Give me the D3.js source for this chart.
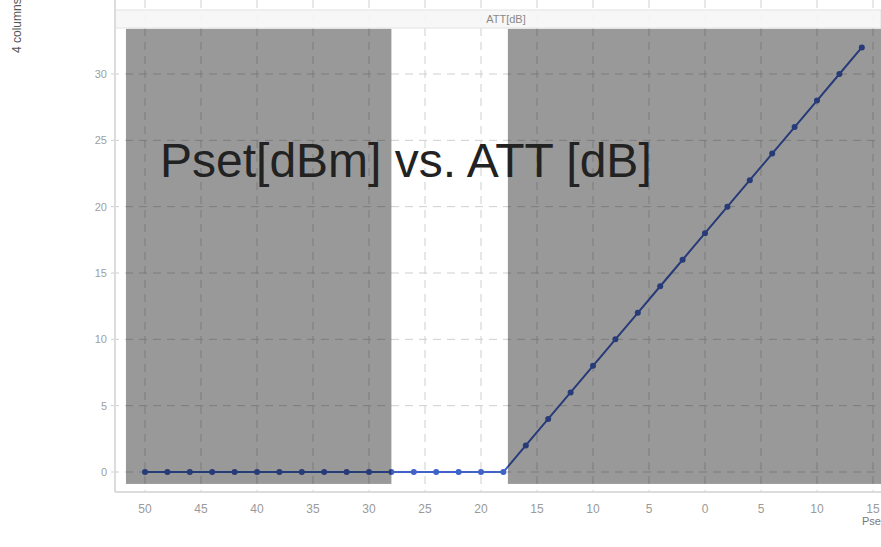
<!DOCTYPE html>
<html>
<head>
<meta charset="utf-8">
<script src="https://cdn.jsdelivr.net/npm/d3@7"></script>
<style>
  html, body { margin: 0; padding: 0; background: #fff; }
  svg { display: block; font-family: "Liberation Sans", Arial, sans-serif; }
</style>
</head>
<body>
<svg id="chart" width="881" height="547"></svg>
<script>
// Set power (dBm) and resulting attenuation (dB)
const psetValues = [-50, -48, -46, -44, -42, -40, -38, -36, -34, -32, -30, -28, -26, -24, -22, -20, -18,
                    -16, -14, -12, -10, -8, -6, -4, -2, 0, 2, 4, 6, 8, 10, 12, 14];
const attValues  = [0, 0, 0, 0, 0, 0, 0, 0, 0, 0, 0, 0, 0, 0, 0, 0, 0,
                    2, 4, 6, 8, 10, 12, 14, 16, 18, 20, 22, 24, 26, 28, 30, 32];
const xTicks = [-50, -45, -40, -35, -30, -25, -20, -15, -10, -5, 0, 5, 10, 15];
const yTicks = [0, 5, 10, 15, 20, 25, 30];
// Shaded Pset ranges (dBm)
const bandStarts = [-51.7, -17.6];
const bandEnds   = [-28.0, 16.5];
const titleText = "Pset[dBm] vs. ATT [dB]";
const panelLabel = "ATT[dB]";
const xAxisLabel = "Pset[dBm]";
const yAxisLabel = "4 columns";

const svg = d3.select("#chart");
const W = 881, H = 547;
const axisX = 115, axisY = 492;

const x = d3.scaleLinear().domain([-50, 15]).range([145, 873]);
const y = d3.scaleLinear().domain([0, 30]).range([472, 74]);

// dashed grid
const grid = svg.append("g");
grid.selectAll("line.v").data(xTicks).join("line")
  .attr("x1", d => x(d)).attr("x2", d => x(d))
  .attr("y1", 0).attr("y2", axisY)
  .attr("stroke", "#cfcfcf").attr("stroke-width", 1)
  .attr("stroke-dasharray", "8,6");
grid.selectAll("line.h").data(yTicks).join("line")
  .attr("x1", axisX - 4).attr("x2", W)
  .attr("y1", d => y(d)).attr("y2", d => y(d))
  .attr("stroke", "#cfcfcf").attr("stroke-width", 1)
  .attr("stroke-dasharray", "8,6");

// panel header strip
svg.append("rect").attr("x", axisX).attr("y", 10).attr("width", W - axisX).attr("height", 18)
  .attr("fill", "#f6f6f6").attr("fill-opacity", 0.85)
  .attr("stroke", "#e2e2e2").attr("stroke-width", 1);
svg.append("text").attr("x", 506).attr("y", 23).attr("text-anchor", "middle")
  .attr("font-size", 11).attr("fill", "#8a8a8a").text(panelLabel);

// axes lines
svg.append("line").attr("x1", axisX).attr("x2", axisX).attr("y1", 0).attr("y2", axisY)
  .attr("stroke", "#dcdcdc").attr("stroke-width", 2);
svg.append("line").attr("x1", axisX).attr("x2", W).attr("y1", axisY).attr("y2", axisY)
  .attr("stroke", "#dcdcdc").attr("stroke-width", 2);

// tick labels
const fmtAbs = d => String(Math.abs(d));
svg.append("g").selectAll("text").data(xTicks).join("text")
  .attr("x", d => x(d)).attr("y", 513).attr("text-anchor", "middle")
  .attr("font-size", 12).attr("fill", "#9a9a9a").text(fmtAbs);
svg.append("g").selectAll("text").data(yTicks).join("text")
  .attr("x", 107).attr("y", d => y(d) + 4).attr("text-anchor", "end")
  .attr("font-size", 11).attr("fill", "#a0a0a0").text(d => d);

// axis titles
svg.append("text").attr("x", 862).attr("y", 525).attr("font-size", 11).attr("fill", "#777").text(xAxisLabel);
svg.append("text").attr("transform", "translate(21,53) rotate(-90)")
  .attr("font-size", 12).attr("fill", "#555").text(yAxisLabel);

// series
const pts = psetValues.map((p, i) => [p, attValues[i]]);
const line = d3.line().x(d => x(d[0])).y(d => y(d[1]));
svg.append("path").datum(pts).attr("d", line)
  .attr("fill", "none").attr("stroke", "#4063c8").attr("stroke-width", 2);
svg.append("g").selectAll("circle").data(pts).join("circle")
  .attr("cx", d => x(d[0])).attr("cy", d => y(d[1])).attr("r", 3)
  .attr("fill", "#4063c8");

// shaded ranges
svg.append("g").selectAll("rect").data(bandStarts).join("rect")
  .attr("x", (d) => x(d))
  .attr("width", (d, i) => x(bandEnds[i]) - x(d))
  .attr("y", y(33.4)).attr("height", y(-0.9) - y(33.4))
  .attr("fill", "#000").attr("fill-opacity", 0.4);

// title
svg.append("text").attr("x", 160).attr("y", 177)
  .attr("font-size", 48).attr("fill", "#222").text(titleText);
</script>
</body>
</html>
